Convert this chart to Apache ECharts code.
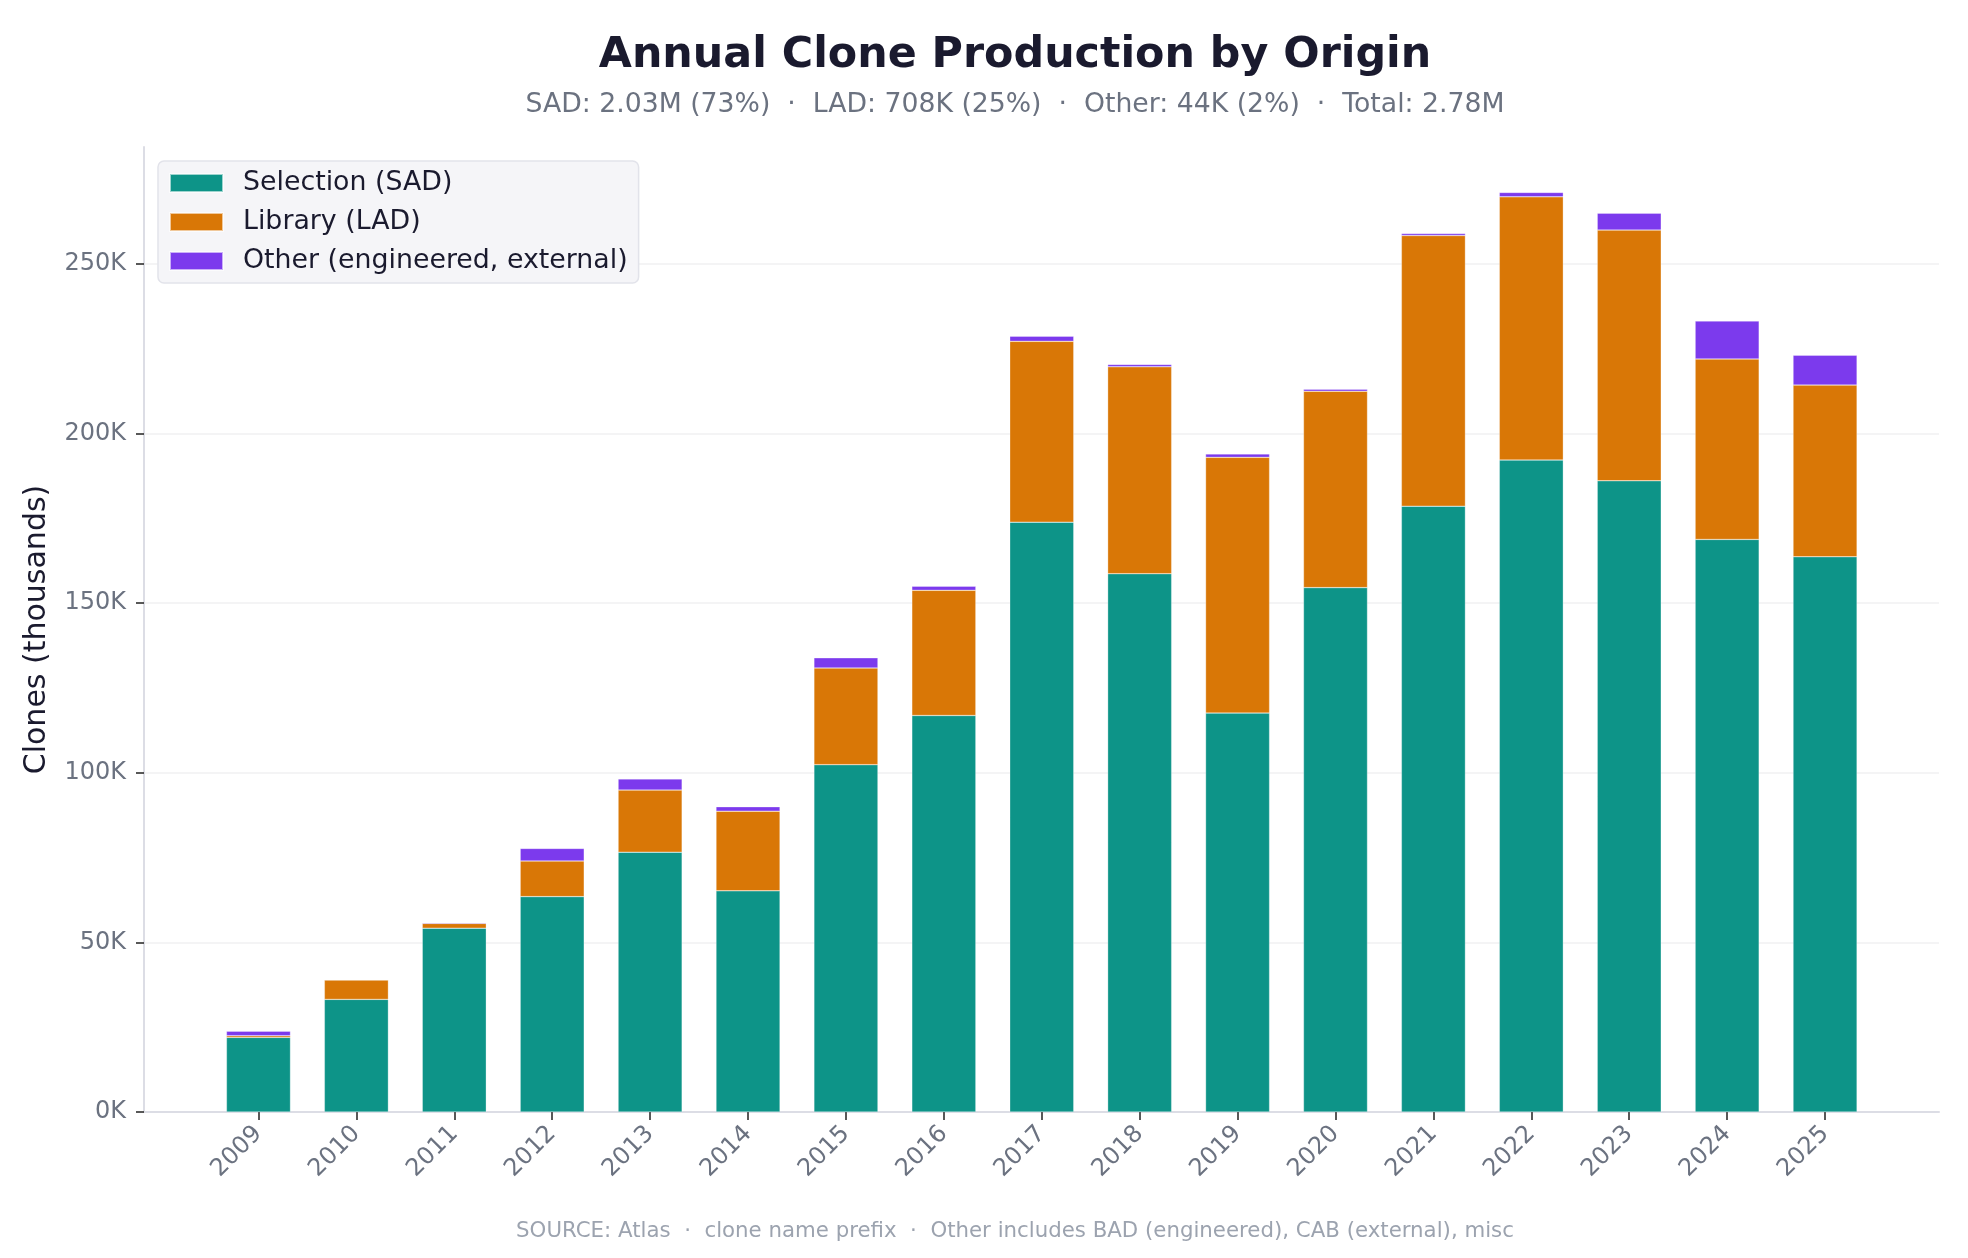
<!DOCTYPE html>
<html><head><meta charset="utf-8">
<script src="https://cdn.jsdelivr.net/npm/echarts@6/dist/echarts.min.js"></script>
<style>html,body{margin:0;padding:0;background:#fff}#c{width:1968px;height:1258px}</style>
</head><body><div id="c"></div>
<script>
// Values in thousands of clones
const years = ['2009','2010','2011','2012','2013','2014','2015','2016','2017','2018','2019','2020','2021','2022','2023','2024','2025'];
const sad   = [22.0, 33.2, 54.2, 63.5, 76.6, 65.2, 102.4, 116.9, 173.9, 158.7, 117.6, 154.6, 178.6, 192.2, 186.1, 168.8, 163.7];
const lad   = [0.5, 5.7, 1.4, 10.5, 18.3, 23.5, 28.5, 36.9, 53.3, 61.0, 75.4, 57.9, 79.8, 77.6, 73.9, 53.2, 50.6];
const other = [1.3, 0.2, 0.2, 3.7, 3.3, 1.3, 3.0, 1.2, 1.5, 0.7, 1.0, 0.6, 0.6, 1.3, 5.0, 11.2, 8.8];
const yTicks = [0, 50, 100, 150, 200, 250];
const seriesNames = ['Selection (SAD)', 'Library (LAD)', 'Other (engineered, external)'];
const colors = ['#0d9488', '#d97706', '#7c3aed'];
const titleText = 'Annual Clone Production by Origin';
const subText = 'SAD: 2.03M (73%)  \u00b7  LAD: 708K (25%)  \u00b7  Other: 44K (2%)  \u00b7  Total: 2.78M';
const footText = 'SOURCE: Atlas  \u00b7  clone name prefix  \u00b7  Other includes BAD (engineered), CAB (external), misc';

const FONT = 'DejaVu Sans';
const YMAX = 284.5;
const chart = echarts.init(document.getElementById('c'), null, {renderer: 'canvas'});

function barSeries(i, data) {
  return {
    name: seriesNames[i], type: 'bar', stack: 'total', data: data,
    xAxisIndex: 0, yAxisIndex: 0, barWidth: 64,
    itemStyle: {color: colors[i], borderColor: 'rgba(255,255,255,0.6)', borderWidth: 0.5},
    emphasis: {disabled: true}
  };
}

chart.setOption({
  animation: false,
  backgroundColor: '#ffffff',
  textStyle: {fontFamily: FONT},
  title: [{
    text: titleText, subtext: subText,
    left: 1010, top: 29, textAlign: 'center', itemGap: 15,
    textStyle: {fontFamily: FONT, fontSize: 42.8, fontWeight: 'bold', color: '#1a1a2e', lineHeight: 43},
    subtextStyle: {fontFamily: FONT, fontSize: 26.7, color: '#6b7280', lineHeight: 27}
  }, {
    text: footText, left: 1010, top: 1216, textAlign: 'center',
    textStyle: {fontFamily: FONT, fontSize: 21.3, fontWeight: 'normal', color: '#9ca3af'}
  }],
  legend: {
    orient: 'vertical', left: 158, top: 161,
    data: seriesNames,
    itemWidth: 53, itemHeight: 18, itemGap: 9,
    icon: 'rect',
    padding: [7, 11, 7, 11],
    backgroundColor: '#f5f5f8', borderColor: '#e2e3ea', borderWidth: 1.5, borderRadius: 6,
    textStyle: {fontFamily: FONT, fontSize: 26.8, color: '#1a1a2e', lineHeight: 30, padding: [0, 0, 0, 15]}
  },
  grid: [
    {left: 209.5, right: 94, top: 147, bottom: 146, containLabel: false},
    {left: 144, right: 29, top: 147, bottom: 146, containLabel: false}
  ],
  xAxis: [{
    type: 'category', data: years, gridIndex: 0,
    axisLine: {show: false},
    axisTick: {show: true, alignWithLabel: true, length: 8, lineStyle: {color: '#222', width: 1.5}},
    axisLabel: {rotate: 45, margin: 18, fontSize: 24, color: '#6b7280', fontFamily: FONT},
    splitLine: {show: false}
  }, {
    type: 'value', gridIndex: 1, min: 0, max: 1,
    axisLine: {show: true, lineStyle: {color: '#dcdde5', width: 2}},
    axisTick: {show: false}, axisLabel: {show: false}, splitLine: {show: false}
  }],
  yAxis: [{
    type: 'value', gridIndex: 0, min: 0, max: YMAX,
    show: false, splitLine: {show: false}
  }, {
    type: 'value', gridIndex: 1, min: 0, max: YMAX,
    name: 'Clones (thousands)', nameLocation: 'middle', nameRotate: 90, nameGap: 92,
    nameTextStyle: {fontFamily: FONT, fontSize: 30, color: '#1a1a2e'},
    axisLine: {show: true, lineStyle: {color: '#dcdde5', width: 2}},
    axisTick: {show: true, length: 8, customValues: yTicks, lineStyle: {color: '#222', width: 1.5}},
    axisLabel: {customValues: yTicks, margin: 18, fontSize: 24, color: '#6b7280', fontFamily: FONT,
      formatter: v => v + 'K'},
    splitLine: {show: true, lineStyle: {color: '#f0f0f2', width: 1.5}}
  }],
  series: [barSeries(0, sad), barSeries(1, lad), barSeries(2, other)]
});
</script>
</body></html>
